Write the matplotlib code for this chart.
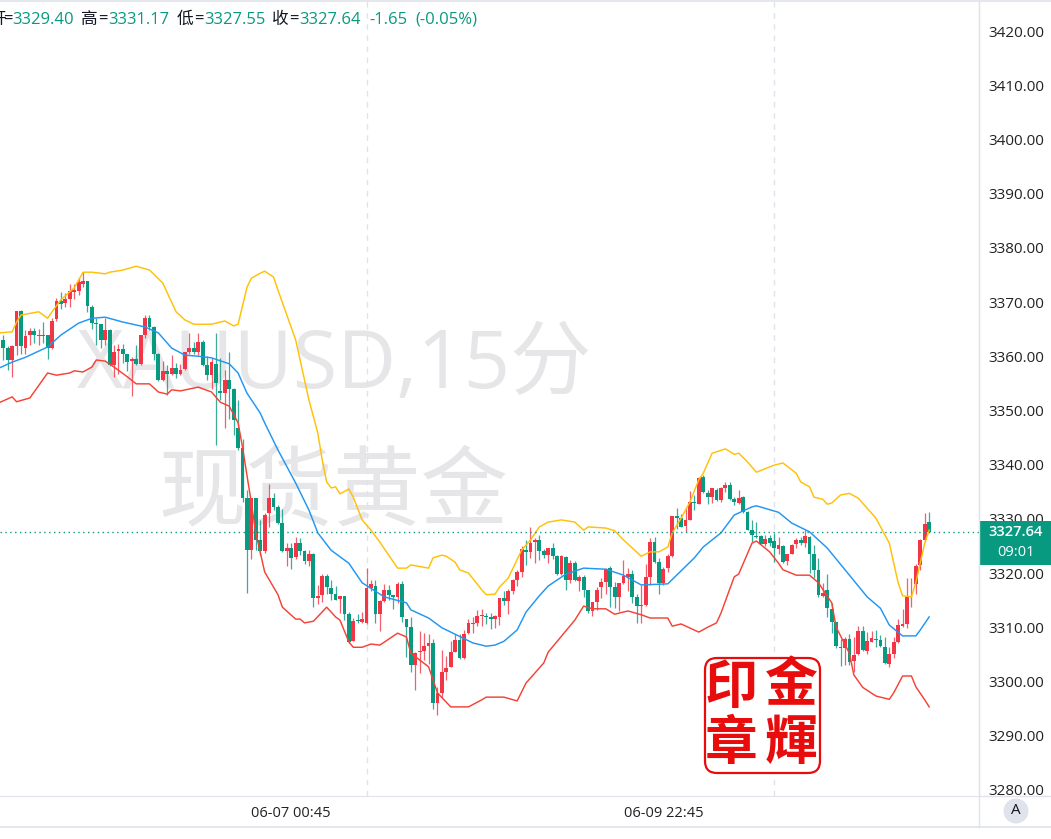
import matplotlib
matplotlib.use("Agg")
import matplotlib.pyplot as plt
from matplotlib.patches import FancyBboxPatch, Rectangle, Circle

# candles
opens = [363.0,361.6,359.3,361.9,368.4,361.5,363.9,364.7,363.7,363.9,363.9,361.5,366.8,370.2,369.8,370.5,371.9,372.0,373.4,373.8,
 369.1,366.2,365.9,362.9,364.8,358.4,361.0,361.3,360.4,359.2,359.5,358.5,363.9,367.0,365.3,360.5,355.6,357.3,356.7,357.9,
 356.7,357.6,360.7,361.6,360.8,362.7,358.4,356.5,358.5,353.6,353.3,355.7,353.9,346.7,343.1,333.9,324.2,333.8,326.1,324.0,
 331.0,333.9,332.1,329.3,324.0,324.7,322.9,325.5,324.0,322.2,323.5,315.3,316.0,319.5,317.3,316.1,315.2,315.7,312.4,307.5,
 311.3,311.0,310.7,317.2,317.6,312.4,314.8,316.8,315.9,315.6,318.0,311.6,310.1,303.0,305.5,305.7,306.6,307.1,296.1,297.9,
 301.8,302.7,305.5,307.6,304.3,308.9,310.6,310.7,312.1,312.1,311.8,311.6,311.9,315.3,314.8,316.7,318.7,320.1,324.2,323.8,
 325.7,326.0,324.1,323.4,324.7,323.2,319.8,323.0,318.7,321.8,318.6,319.3,316.9,312.9,314.7,317.4,318.4,321.0,317.4,315.6,
 318.1,319.3,319.8,315.5,313.9,314.1,319.3,325.7,322.0,318.1,320.9,323.1,330.5,330.2,328.6,329.7,333.1,332.8,337.7,334.8,
 334.0,335.4,333.4,335.6,336.3,333.7,333.0,334.0,331.3,328.0,326.9,326.8,325.4,326.4,325.9,324.5,325.0,322.2,323.6,325.3,
 326.1,325.6,326.7,323.5,320.5,315.8,316.8,313.3,310.9,306.3,306.2,307.9,303.7,305.0,309.3,305.6,307.3,307.9,307.6,306.3,
 303.3,305.0,307.3,310.3,310.6,315.7,317.9,321.4,326.0,329.4]
highs = [363.9,361.8,362.1,368.4,368.5,364.8,365.2,365.2,365.0,366.4,363.9,367.0,370.7,371.8,371.6,373.4,373.4,374.4,375.6,373.9,
 369.4,367.0,366.0,367.0,365.1,362.1,362.2,362.2,360.5,359.8,362.1,363.9,367.6,367.6,365.5,360.6,359.2,358.4,360.2,358.7,
 358.5,360.8,364.2,362.7,364.2,362.9,360.0,359.6,364.2,359.6,357.5,360.8,354.1,351.9,344.8,335.4,333.9,333.9,329.8,331.0,
 336.5,334.8,332.5,331.9,325.6,325.5,326.7,326.4,324.2,324.3,323.7,317.8,319.9,319.8,318.8,317.6,315.8,315.8,312.8,311.7,
 312.5,312.8,321.0,318.7,318.7,315.0,318.0,317.8,315.9,318.4,318.6,311.6,311.8,305.5,309.3,309.0,308.7,307.9,299.0,305.8,
 304.7,307.4,308.7,308.7,309.5,311.6,311.9,313.2,313.3,312.7,312.6,312.2,315.3,316.6,317.0,318.9,320.6,324.9,326.0,328.4,
 326.4,327.1,324.5,324.7,325.5,323.3,323.3,323.1,322.4,322.3,319.6,319.6,316.9,314.7,317.5,319.0,321.0,321.3,318.4,318.1,
 322.4,320.9,320.6,316.1,317.8,321.7,326.4,326.7,322.7,321.2,323.6,330.5,332.0,330.8,332.2,335.2,334.4,337.7,338.0,335.3,
 335.7,335.6,335.9,336.8,336.8,334.0,335.3,334.2,331.4,329.7,329.4,327.1,327.1,327.1,327.3,326.7,325.1,323.6,325.3,326.5,
 326.7,327.9,326.8,325.1,322.7,318.2,319.9,314.4,310.9,307.9,308.2,308.8,308.2,310.2,310.2,309.1,309.3,309.4,308.5,308.2,
 306.4,308.2,311.6,313.3,319.0,319.0,321.7,326.2,331.1,331.17]
lows = [359.3,357.5,356.1,360.2,360.4,360.5,362.1,362.4,362.1,362.4,359.4,361.4,366.5,368.8,369.0,369.1,370.6,371.3,372.8,368.2,
 365.1,362.1,361.6,362.1,358.2,356.1,356.7,358.7,357.3,352.7,358.4,358.4,363.3,364.8,359.3,355.5,355.5,352.9,356.5,355.9,
 356.5,357.5,360.5,360.4,360.2,358.2,355.7,353.9,343.6,351.9,346.7,348.5,345.5,342.7,333.1,316.4,322.5,324.2,323.3,323.7,
 328.5,331.6,329.0,323.9,321.3,320.8,322.6,323.3,321.6,321.3,313.7,314.3,314.7,316.2,315.0,315.0,312.7,311.3,307.1,307.4,
 310.7,310.7,310.6,316.7,310.7,309.3,314.7,315.0,313.3,314.5,311.0,304.5,301.7,298.4,301.5,303.9,303.3,295.0,293.8,296.9,
 300.3,302.7,305.5,304.2,304.1,308.7,308.9,310.3,310.2,310.6,309.6,309.8,310.4,314.1,312.4,316.1,317.6,319.3,321.5,322.7,
 321.8,322.4,322.7,321.9,322.6,319.6,319.6,316.9,318.1,318.6,316.6,315.6,312.6,312.1,313.2,315.4,316.2,313.7,313.5,313.0,
 318.0,316.6,314.5,310.8,310.8,313.9,317.8,321.8,316.1,317.8,320.2,323.0,328.2,328.4,327.5,329.7,331.6,332.8,334.8,332.8,
 332.9,333.3,333.1,335.0,333.4,332.5,332.8,331.1,327.9,325.7,326.4,325.3,324.9,324.9,322.1,323.6,321.9,321.4,323.5,324.7,
 325.1,324.8,320.0,319.0,315.6,315.6,311.9,309.0,306.1,302.9,303.0,303.0,301.8,304.8,305.6,305.1,307.2,306.4,306.3,303.3,
 302.7,304.4,307.0,310.1,309.8,313.8,316.1,320.6,325.7,327.55]
closes = [361.5,359.3,361.9,368.3,361.8,363.7,364.7,363.9,363.9,363.7,361.5,366.5,370.1,369.6,370.5,372.0,372.2,373.6,373.8,369.3,
 366.2,366.0,362.9,364.8,358.4,360.7,361.3,360.4,359.0,359.4,358.5,363.9,367.0,365.3,360.5,355.6,357.3,356.7,357.9,356.7,
 357.5,360.7,361.6,360.8,362.6,358.3,356.5,358.9,355.0,353.3,355.7,353.9,348.2,343.0,333.9,324.2,333.8,326.1,324.0,330.7,
 333.8,332.2,329.3,324.0,324.7,322.8,325.5,324.0,322.2,323.5,315.4,315.8,319.5,317.5,316.2,315.1,315.7,312.4,307.3,311.1,
 311.1,311.6,317.3,318.0,312.4,314.8,316.8,315.9,315.6,317.9,311.9,310.1,303.0,305.3,305.6,306.6,307.0,296.1,297.8,301.8,
 302.4,305.4,307.6,304.3,308.7,310.7,310.7,312.1,312.2,311.8,311.6,312.1,315.3,314.8,316.7,318.7,320.1,324.4,323.8,325.5,
 326.0,324.1,323.3,324.7,323.2,319.8,323.1,318.7,321.8,318.7,319.3,316.9,313.0,314.6,316.9,318.3,320.8,317.5,315.5,318.1,
 319.5,319.9,315.6,313.9,314.1,319.2,325.7,322.0,318.1,320.7,323.1,330.5,330.2,328.5,329.7,333.1,332.9,337.6,335.0,334.0,
 335.6,333.4,335.7,336.3,333.6,333.1,333.9,331.3,328.0,327.0,326.7,325.4,326.2,325.6,324.7,325.1,322.1,323.5,325.1,326.1,
 325.6,326.8,323.5,320.5,315.9,316.4,313.6,311.0,306.6,306.1,307.9,303.6,304.8,309.3,305.8,307.4,308.1,307.7,306.5,303.4,
 305.0,307.3,310.4,310.6,315.6,315.8,321.3,326.1,329.1,327.64]
opens = [3000 + v for v in opens]
highs = [3000 + v for v in highs]
lows = [3000 + v for v in lows]
closes = [3000 + v for v in closes]

# bands, read at the bars where they bend
upper_bars = [-1,2,3,4,8,10,11,13,16,18,20,23,24,27,30,33,36,37,39,41,43,47,50,52,53,55,56,58,59,61,62,66,69,71,72,73,74,75,76,78,79,81,83,85,89,91,92,96,97,99,100,102,103,105,108,109,111,112,114,117,119,121,123,126,129,131,132,136,138,140,142,144,146,148,150,151,153,155,157,158,160,163,165,166,168,170,174,176,179,180,182,183,185,186,187,189,191,193,197,200,202,203,205,206,208,209]
upper_vals = [3364.3,3364.5,3366.3,3367.6,3368.2,3367.0,3368.2,3370.4,3372.6,3375.5,3375.5,3375.2,3375.5,3375.9,3376.6,3375.9,3373.5,3371.7,3368.2,3366.7,3365.9,3365.9,3366.5,3365.6,3365.9,3372.7,3374.4,3375.3,3375.7,3374.6,3372.2,3363.0,3351.9,3345.8,3340.8,3336.8,3335.7,3335.9,3334.6,3335.5,3334.0,3329.8,3327.9,3325.7,3320.9,3320.9,3321.5,3320.9,3322.8,3323.3,3323.1,3322.0,3320.6,3320.0,3316.9,3316.0,3316.1,3317.4,3319.1,3324.2,3326.1,3328.5,3329.4,3329.8,3329.4,3327.9,3328.5,3328.3,3327.8,3326.1,3324.6,3323.1,3323.9,3323.9,3324.8,3327.4,3330.1,3333.1,3337.2,3338.4,3342.1,3342.9,3341.9,3342.1,3340.5,3338.6,3339.9,3340.3,3338.4,3336.8,3335.9,3334.0,3333.6,3332.7,3332.9,3334.4,3334.7,3333.8,3330.1,3325.5,3318.2,3315.8,3315.6,3318.3,3325.5,3327.9]
middle_bars = [-1,2,5,10,13,17,20,23,27,32,35,38,41,44,47,51,53,55,58,59,62,66,69,71,74,78,81,86,91,92,96,99,102,106,109,111,113,116,118,121,123,127,131,136,140,144,150,152,156,158,162,165,169,170,175,178,182,186,190,195,198,200,203,206,207,209]
middle_vals = [3357.8,3358.9,3359.8,3361.7,3363.9,3366.1,3367.0,3367.2,3366.3,3365.4,3364.3,3361.5,3360.2,3360.0,3359.7,3358.6,3356.9,3353.2,3349.5,3347.7,3342.7,3336.6,3331.6,3327.4,3324.2,3321.8,3318.2,3315.6,3314.5,3313.2,3311.7,3309.9,3308.7,3307.1,3306.5,3306.7,3307.4,3309.5,3312.8,3315.8,3317.6,3319.8,3320.9,3320.7,3319.6,3317.8,3318.0,3319.6,3322.8,3324.8,3327.4,3330.7,3332.2,3332.4,3331.2,3329.2,3327.6,3324.6,3320.6,3315.6,3313.5,3310.4,3308.4,3308.4,3309.5,3311.9]
lower_bars = [-1,2,3,6,10,12,15,16,18,20,21,23,25,28,30,33,35,37,38,40,44,47,49,51,53,54,56,57,59,62,63,66,67,68,70,73,75,76,78,79,81,83,85,89,91,92,96,98,101,105,108,109,113,116,118,122,123,129,131,133,136,138,141,144,146,150,151,153,157,159,161,162,165,166,169,170,173,175,176,179,182,184,187,188,191,192,194,197,200,201,203,205,206,208,209]
lower_vals = [3351.4,3352.5,3351.6,3352.3,3356.9,3356.5,3356.9,3357.3,3357.1,3358.0,3359.3,3359.1,3358.0,3356.2,3354.9,3354.9,3353.4,3353.0,3353.8,3353.6,3354.3,3353.4,3351.5,3350.8,3347.7,3343.2,3332.9,3327.4,3320.2,3316.0,3313.7,3311.5,3311.5,3310.8,3311.1,3313.7,3311.9,3311.3,3307.3,3306.3,3306.3,3306.9,3306.7,3308.9,3308.2,3305.2,3302.7,3297.9,3295.3,3295.3,3296.6,3297.1,3297.1,3296.4,3299.7,3303.4,3305.4,3311.3,3313.9,3313.4,3313.4,3312.4,3313.0,3312.3,3311.7,3311.7,3310.2,3310.6,3309.1,3310.0,3310.8,3312.6,3319.3,3319.8,3325.5,3325.9,3323.9,3321.8,3320.6,3319.6,3319.6,3318.2,3314.5,3310.0,3305.2,3301.2,3298.9,3297.3,3296.7,3297.9,3301.0,3301.0,3299.0,3296.6,3295.3]

price_ticks = [3280,3290,3300,3310,3320,3330,3340,3350,3360,3370,3380,3390,3400,3410,3420]
time_bars = [65, 149]
time_labels = ["06-07 00:45", "06-09 22:45"]
session_bars = [82, 174]
last_price = 3327.64

GREEN = "#089981"
RED = "#F23645"
FONT = ["Open Sans", "Noto Sans CJK SC"]
W, H = 1051, 839

plt.rcParams["font.family"] = FONT
fig = plt.figure(figsize=(W / 100, H / 100), dpi=100)

# background layer for the watermark, pixel coordinates
bg = fig.add_axes([0, 0, 1, 1], zorder=0)
bg.set_xlim(0, W)
bg.set_ylim(H, 0)
bg.axis("off")
bg.text(334, 367, "XAUUSD,15分", fontsize=58.5, color="#E6E6E8", ha="center", va="center")
bg.text(333, 495, "现货黄金", fontsize=63, color="#E6E6E8", ha="center", va="center")

ax = fig.add_axes([0, (H - 796) / H, 979 / W, 796 / H], zorder=1)
ax.patch.set_alpha(0)
ax.set_xlim(-0.745, 220.25)
ax.set_ylim(3278.86, 3425.72)

ax.vlines(session_bars, 3278.86, 3425.72, color="#E0E3EB", lw=1, linestyles=(0, (4, 4)), zorder=1)
ax.axhline(last_price, color=GREEN, lw=1, linestyle=(0, (1, 2.5)), zorder=4)

for i in range(len(opens)):
    col = RED if closes[i] > opens[i] else GREEN
    ax.vlines(i, lows[i], highs[i], color=col, lw=0.9, alpha=0.8, zorder=2)
    ax.bar(i, abs(closes[i] - opens[i]), bottom=min(opens[i], closes[i]), width=0.86, color=col, lw=0, zorder=2.5)

ax.plot(upper_bars, upper_vals, color="#FFC107", lw=1.05, zorder=3, solid_joinstyle="round")
ax.plot(middle_bars, middle_vals, color="#2196F3", lw=1.05, zorder=3, solid_joinstyle="round")
ax.plot(lower_bars, lower_vals, color="#F44336", lw=1.05, zorder=3, solid_joinstyle="round")

for s in ["top", "left"]:
    ax.spines[s].set_visible(False)
ax.spines["right"].set_color("#E0E3EB")
ax.spines["bottom"].set_color("#E0E3EB")
ax.yaxis.tick_right()
ax.set_yticks(price_ticks)
ax.set_yticklabels(["%.2f" % v for v in price_ticks])
ax.set_xticks(time_bars)
ax.set_xticklabels(time_labels)
ax.tick_params(axis="y", length=0, pad=7, labelsize=11, labelcolor="#222222")
ax.tick_params(axis="x", length=0, pad=7, labelsize=10.5, labelcolor="#222222")

# overlay in pixel coordinates: legend line, price tag, seal, corner button
top = fig.add_axes([0, 0, 1, 1], zorder=2)
top.patch.set_alpha(0)
top.set_xlim(0, W)
top.set_ylim(H, 0)
top.axis("off")

header = [(-11, "开", "#131722"), (3, "=", "#131722"), (12, "3329.40", GREEN), (81, "高", "#131722"), (98, "=", "#131722"),
          (108, "3331.17", GREEN), (177, "低", "#131722"), (194, "=", "#131722"), (204, "3327.55", GREEN),
          (272, "收", "#131722"), (289, "=", "#131722"), (299, "3327.64", GREEN), (369, "-1.65", GREEN), (415, "(-0.05%)", GREEN)]
for x, s, c in header:
    top.text(x, 20, s, fontsize=12, color=c, ha="left", va="center")

top.plot([979, 979], [796, 827], color="#E0E3EB", lw=1)
top.plot([0, W], [827, 827], color="#E0E3EB", lw=1.2)
top.plot([0, W], [1, 1], color="#E0E3EB", lw=1.2)
top.plot([979, 979], [0, 796], color="#E0E3EB", lw=1)
top.plot([979, W], [796, 796], color="#E0E3EB", lw=1)

top.add_patch(Rectangle((980, 521), 71, 44, color=GREEN, lw=0))
top.text(1016, 532, "3327.64", color="white", fontsize=10.5, ha="center", va="center", fontweight="semibold")
top.text(1016, 553, "09:01", color="white", fontsize=10.5, ha="center", va="center")

top.add_patch(Circle((1016, 811), 12.5, color="#E0E3EB", lw=0))
top.text(1016, 811, "A", color="#131722", fontsize=11, ha="center", va="center")

top.add_patch(FancyBboxPatch((711, 664), 103, 103, boxstyle="round,pad=6,rounding_size=12",
                             fc="white", ec="#E80C0C", lw=1.6))
seal = [(731, 688, "印"), (791, 686, "金"), (731, 744, "章"), (791, 744, "輝")]
for x, y, s in seal:
    top.text(x, y, s, color="#E80C0C", fontsize=38, fontweight="bold", ha="center", va="center",
             family=["Noto Sans CJK TC", "DejaVu Sans"])

fig.savefig("out.png", dpi=100)
